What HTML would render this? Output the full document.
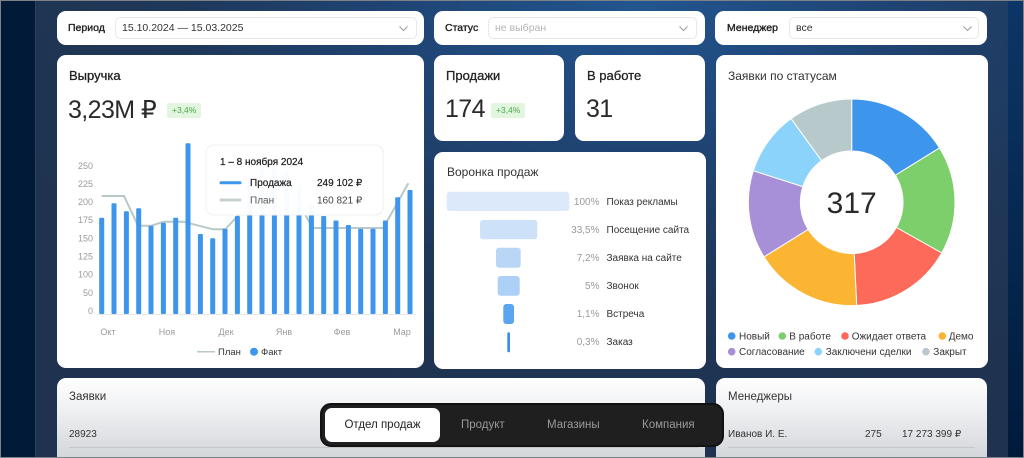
<!DOCTYPE html>
<html style="width:1024px;height:458px;overflow:hidden"><head><meta charset="utf-8"><style>
*{box-sizing:border-box;margin:0;padding:0}
html,body{width:1024px;height:458px;overflow:hidden}
body{position:relative;font-family:"Liberation Sans","DejaVu Sans",sans-serif;color:#222;background:#1f3350}
.bg{position:absolute;left:37px;top:0;width:971px;height:458px;background:radial-gradient(ellipse 70% 90% at 62% 0%,#22558f 0%,#1f4575 35%,#1f3758 70%,#1f3350 100%)}
.lstrip{position:absolute;left:0;top:0;width:36px;height:458px;background:#011a38;border-right:1px solid #2c4262}
.rstrip{position:absolute;left:1008px;top:0;width:16px;height:458px;background:linear-gradient(#0c3668,#001a3a)}
.frame{position:absolute;left:0;top:0;width:1024px;height:458px;border:1px solid #7d8289;pointer-events:none;z-index:20}
.card{position:absolute;background:#fff;border-radius:9px}
.lbl{position:absolute;font-size:10.5px;-webkit-text-stroke:.35px #222;color:#222}
.sel{position:absolute;border:1px solid #e8e8e8;border-radius:5px;height:22px;font-size:10.5px;line-height:20px;padding-left:6px;color:#333}
.chev{position:absolute;top:8px}
.t13{position:absolute;font-size:13px;-webkit-text-stroke:.3px #222;color:#222}
.t12{position:absolute;font-size:12px;color:#333}
.big{position:absolute;font-size:25px;letter-spacing:-.6px;color:#2a2a2a}
.badge{position:absolute;height:15px;background:#e2f5df;color:#47a948;font-size:8.5px;line-height:15px;padding:0 5px;border-radius:2px}
.bot{background:linear-gradient(#fff 0%,#f1f2f4 35%,#d3d6da 100%);border-radius:9px 9px 0 0}
</style></head><body>
<div class="bg"></div>
<div class="lstrip"></div>
<div class="rstrip"></div>

<!-- filters -->
<div class="card" style="left:57px;top:11px;width:367px;height:34px">
 <div class="lbl" style="left:11px;top:11px">Период</div>
 <div class="sel" style="left:58px;top:6px;width:302px">15.10.2024 — 15.03.2025
  <svg class="chev" style="left:283px" width="9" height="5"><polyline points="0.5,0.5 4.5,4.5 8.5,0.5" fill="none" stroke="#999" stroke-width="1"/></svg></div>
</div>
<div class="card" style="left:434px;top:11px;width:271px;height:34px">
 <div class="lbl" style="left:11px;top:11px">Статус</div>
 <div class="sel" style="left:54px;top:6px;width:209px;color:#b5b5b5">не выбран
  <svg class="chev" style="left:190px" width="9" height="5"><polyline points="0.5,0.5 4.5,4.5 8.5,0.5" fill="none" stroke="#999" stroke-width="1"/></svg></div>
</div>
<div class="card" style="left:715px;top:11px;width:272px;height:34px">
 <div class="lbl" style="left:12px;top:11px">Менеджер</div>
 <div class="sel" style="left:74px;top:6px;width:190px">все
  <svg class="chev" style="left:173px" width="9" height="5"><polyline points="0.5,0.5 4.5,4.5 8.5,0.5" fill="none" stroke="#999" stroke-width="1"/></svg></div>
</div>

<!-- revenue -->
<div class="card" style="left:57px;top:55px;width:367px;height:313px">
 <div class="t13" style="left:12px;top:13px">Выручка</div>
 <div class="big" style="left:11px;top:40px">3,23M ₽</div>
 <div class="badge" style="left:110px;top:48px">+3,4%</div>
</div>
<div class="card" style="left:434px;top:55px;width:130px;height:86px">
 <div class="t13" style="left:12px;top:13px">Продажи</div>
 <div class="big" style="left:11px;top:40px">174</div>
 <div class="badge" style="left:57px;top:48px">+3,4%</div>
</div>
<div class="card" style="left:575px;top:55px;width:130px;height:86px">
 <div class="t13" style="left:12px;top:13px">В работе</div>
 <div class="big" style="left:11px;top:40px">31</div>
</div>
<div class="card" style="left:434px;top:152px;width:272px;height:217px">
 <div class="t12" style="left:13px;top:13px">Воронка продаж</div>
</div>
<div class="card" style="left:716px;top:55px;width:272px;height:313px">
 <div class="t12" style="left:12px;top:14px">Заявки по статусам</div>
</div>

<!-- bottom -->
<div class="card bot" style="left:57px;top:378px;width:648px;height:80px">
 <div style="position:absolute;left:12px;top:13px;font-size:11.5px;color:#333">Заявки</div>
 <div style="position:absolute;left:12px;top:51px;font-size:10px;color:#333">28923</div>
 <div style="position:absolute;left:12px;top:69px;width:630px;height:1px;background:#c4c6c9"></div>
</div>
<div class="card bot" style="left:716px;top:378px;width:271px;height:80px">
 <div style="position:absolute;left:12px;top:13px;font-size:11.5px;color:#333">Менеджеры</div>
 <div style="position:absolute;left:12px;top:51px;font-size:10px;color:#333">Иванов И. Е.</div>
 <div style="position:absolute;left:149px;top:51px;font-size:10px;color:#333">275</div>
 <div style="position:absolute;left:186px;top:51px;font-size:10px;color:#333">17 273 399 ₽</div>
 <div style="position:absolute;left:12px;top:69px;width:247px;height:1px;background:#c4c6c9"></div>
</div>

<!-- tab bar -->
<div style="position:absolute;left:320px;top:403px;width:404px;height:44px;background:#1f1f1f;border-radius:11px;border:2px solid #121212;z-index:5">
 <div style="position:absolute;left:3px;top:3px;width:115px;height:34px;background:#fff;border-radius:7px;font-size:11.5px;color:#222;text-align:center;line-height:34px">Отдел продаж</div>
 <div style="position:absolute;left:139px;top:3px;font-size:11.5px;line-height:34px;color:#9a9a9a">Продукт</div>
 <div style="position:absolute;left:225px;top:3px;font-size:11.5px;line-height:34px;color:#9a9a9a">Магазины</div>
 <div style="position:absolute;left:320px;top:3px;font-size:11.5px;line-height:34px;color:#9a9a9a">Компания</div>
</div>

<svg style="position:absolute;left:0;top:0;z-index:3" width="1024" height="458" font-family="Liberation Sans, DejaVu Sans, sans-serif">
 <!-- y labels -->
 <g font-size="9" fill="#9a9a9a" text-anchor="end">
  <text x="93" y="314">0</text><text x="93" y="296">50</text><text x="93" y="277.5">100</text>
  <text x="93" y="259.5">125</text><text x="93" y="241.5">150</text><text x="93" y="223">175</text>
  <text x="93" y="205">200</text><text x="93" y="187">225</text><text x="93" y="169">250</text>
 </g>
 <line x1="97" y1="314.5" x2="416" y2="314.5" stroke="#e6e6e6" stroke-width="1"/>
 <!-- plan line -->
 <polyline points="101.7,196 124,196 138,225.7 151.3,225.7 163.7,221.7 183.3,221.7 213,229.3 225.3,229.3 237.7,216 250,205 300,205 312.5,228 383.3,228 408.3,183.3" fill="none" stroke="#b9c8c8" stroke-width="2"/>
 <!-- bars -->
 <g fill="#3d95ec">
  <rect x="99.2" y="217.7" width="5" height="96.3" rx="1"/>
  <rect x="111.5" y="203.3" width="5" height="110.7" rx="1"/>
  <rect x="123.9" y="211.3" width="5" height="102.7" rx="1"/>
  <rect x="136.2" y="208.3" width="5" height="105.7" rx="1"/>
  <rect x="148.5" y="225.7" width="5" height="88.3" rx="1"/>
  <rect x="160.9" y="222.7" width="5" height="91.3" rx="1"/>
  <rect x="173.2" y="217.7" width="5" height="96.3" rx="1"/>
  <rect x="185.5" y="143.3" width="5" height="170.7" rx="1"/>
  <rect x="197.9" y="234" width="5" height="80" rx="1"/>
  <rect x="210.2" y="238.3" width="5" height="75.7" rx="1"/>
  <rect x="222.5" y="228.7" width="5" height="85.3" rx="1"/>
  <rect x="234.9" y="216" width="5" height="98" rx="1"/>
  <rect x="247.2" y="178" width="5" height="136" rx="1"/>
  <rect x="259.5" y="168" width="5" height="146" rx="1"/>
  <rect x="271.9" y="165" width="5" height="149" rx="1"/>
  <rect x="284.2" y="170" width="5" height="144" rx="1"/>
  <rect x="296.5" y="185" width="5" height="129" rx="1"/>
  <rect x="308.9" y="205" width="5" height="109" rx="1"/>
  <rect x="321.2" y="216" width="5" height="98" rx="1"/>
  <rect x="333.5" y="220.5" width="5" height="93.5" rx="1"/>
  <rect x="345.9" y="225" width="5" height="89" rx="1"/>
  <rect x="358.2" y="228.7" width="5" height="85.3" rx="1"/>
  <rect x="370.5" y="228.7" width="5" height="85.3" rx="1"/>
  <rect x="382.9" y="220.5" width="5" height="93.5" rx="1"/>
  <rect x="395.2" y="197.3" width="5" height="116.7" rx="1"/>
  <rect x="407.5" y="190" width="5" height="124" rx="1"/>
 </g>
 <!-- x labels -->
 <g font-size="9" fill="#9a9a9a" text-anchor="middle">
  <text x="108" y="335">Окт</text><text x="167" y="335">Ноя</text><text x="226" y="335">Дек</text>
  <text x="284" y="335">Янв</text><text x="342" y="335">Фев</text><text x="402" y="335">Мар</text>
 </g>
 <!-- legend -->
 <line x1="197" y1="351.7" x2="215" y2="351.7" stroke="#b9c8c8" stroke-width="1.5"/>
 <text x="218" y="355" font-size="9.5" fill="#333">План</text>
 <circle cx="254" cy="351.7" r="4" fill="#3d95ec"/>
 <text x="261" y="355" font-size="9.5" fill="#333">Факт</text>
 <!-- tooltip -->
 <rect x="206" y="145" width="177" height="70" rx="8" fill="#fff" fill-opacity="0.97" stroke="#f0f0f0"/>
 <text x="220" y="165" font-size="10" fill="#222" stroke="#222" stroke-width="0.25">1 – 8 ноября 2024</text>
 <line x1="221" y1="182.7" x2="240" y2="182.7" stroke="#3d95ec" stroke-width="3" stroke-linecap="round"/>
 <text x="250" y="186" font-size="10" fill="#222" stroke="#222" stroke-width="0.2">Продажа</text>
 <text x="317" y="186" font-size="10" fill="#222" stroke="#222" stroke-width="0.2">249 102 ₽</text>
 <line x1="221" y1="200" x2="240" y2="200" stroke="#c5d0d0" stroke-width="3" stroke-linecap="round"/>
 <text x="250" y="203.5" font-size="10" fill="#555">План</text>
 <text x="317" y="203.5" font-size="10" fill="#444">160 821 ₽</text>

 <!-- funnel -->
 <rect x="446.7" y="191.7" width="122.6" height="19.3" rx="3" fill="#dbe9fb"/>
 <rect x="480" y="220" width="57.3" height="19.3" rx="3" fill="#cde1f9"/>
 <rect x="496" y="247.7" width="24.7" height="20" rx="3" fill="#b9d6f7"/>
 <rect x="497.7" y="276" width="22" height="19.7" rx="3" fill="#add0f6"/>
 <rect x="503.3" y="304" width="10.7" height="20" rx="3" fill="#5ba5f0"/>
 <rect x="507.3" y="332.3" width="2.7" height="20" rx="1.3" fill="#3a8ee8"/>
 <g font-size="10" fill="#9a9a9a" text-anchor="end">
  <text x="599.5" y="205">100%</text><text x="599.5" y="233">33,5%</text><text x="599.5" y="261">7,2%</text>
  <text x="599.5" y="289">5%</text><text x="599.5" y="317">1,1%</text><text x="599.5" y="345">0,3%</text>
 </g>
 <g font-size="10" fill="#333">
  <text x="606.5" y="205">Показ рекламы</text><text x="606.5" y="233">Посещение сайта</text><text x="606.5" y="261">Заявка на сайте</text>
  <text x="606.5" y="289">Звонок</text><text x="606.5" y="317">Встреча</text><text x="606.5" y="345">Заказ</text>
 </g>

 <!-- donut -->
 <g stroke="#fff" stroke-width="1">
  <path d="M851.7,99 A103.3,103.3 0 0 1 939.5,147.9 L895.3,175.3 A51.3,51.3 0 0 0 851.7,151 Z" fill="#3d95ec"/>
  <path d="M939.5,147.9 A103.3,103.3 0 0 1 941.7,253 L896.4,227.5 A51.3,51.3 0 0 0 895.3,175.3 Z" fill="#7dcf6b"/>
  <path d="M941.7,253 A103.3,103.3 0 0 1 856.7,305.5 L854.2,253.5 A51.3,51.3 0 0 0 896.4,227.5 Z" fill="#fd6a5a"/>
  <path d="M856.7,305.5 A103.3,103.3 0 0 1 764,256.9 L808.1,229.4 A51.3,51.3 0 0 0 854.2,253.5 Z" fill="#fcb433"/>
  <path d="M764,256.9 A103.3,103.3 0 0 1 753.3,170.7 L802.9,186.6 A51.3,51.3 0 0 0 808.1,229.4 Z" fill="#a890d8"/>
  <path d="M753.3,170.7 A103.3,103.3 0 0 1 791.1,118.6 L821.6,160.7 A51.3,51.3 0 0 0 802.9,186.6 Z" fill="#8bd3fb"/>
  <path d="M791.1,118.6 A103.3,103.3 0 0 1 851.7,99 L851.7,151 A51.3,51.3 0 0 0 821.6,160.7 Z" fill="#b8c9cc"/>
 </g>
 <text x="851.7" y="213" font-size="30" fill="#2a2a2a" text-anchor="middle">317</text>
 <g font-size="10" fill="#333">
  <circle cx="731.7" cy="336" r="3.8" fill="#3d95ec"/><text x="739" y="339.5">Новый</text>
  <circle cx="782.3" cy="336" r="3.8" fill="#7dcf6b"/><text x="789.3" y="339.5">В работе</text>
  <circle cx="845" cy="336" r="3.8" fill="#fd6a5a"/><text x="851.7" y="339.5">Ожидает ответа</text>
  <circle cx="942.3" cy="336" r="3.8" fill="#fcb433"/><text x="948.7" y="339.5">Демо</text>
  <circle cx="731.7" cy="351.7" r="3.8" fill="#a890d8"/><text x="739" y="355.2">Согласование</text>
  <circle cx="818.3" cy="351.7" r="3.8" fill="#8bd3fb"/><text x="825.7" y="355.2">Заключени сделки</text>
  <circle cx="926" cy="351.7" r="3.8" fill="#b8c9cc"/><text x="933.3" y="355.2">Закрыт</text>
 </g>
</svg>
<div class="frame"></div>
</body></html>
